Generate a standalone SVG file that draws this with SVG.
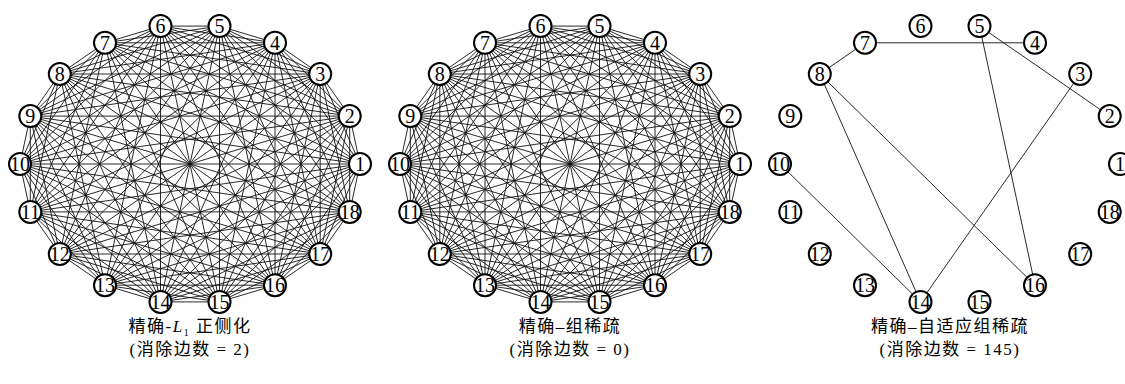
<svg xmlns="http://www.w3.org/2000/svg" xmlns:xlink="http://www.w3.org/1999/xlink" width="1125" height="384" viewBox="0 0 1125 384">
<style>
.bg{fill:#fff}
.e{fill:none;stroke:#111;stroke-width:0.9}
.n circle{fill:#fff;stroke:#000;stroke-width:2}
.n text{font-family:"Liberation Serif","Times New Roman",serif;font-size:20px;text-anchor:middle;fill:#000}
.cap{font-family:"Liberation Serif","Noto Sans CJK SC",serif;font-size:17px;letter-spacing:1.5px;text-anchor:middle;fill:#000}
</style>
<defs>
<g id="k18" class="e">
<path d="M170 0L159.7-47.9M170 0L130.2-90M170 0L85-121.2M170 0L29.5-137.9M170 0L-29.5-137.9M170 0L-85-121.2M170 0L-130.2-90M170 0L-159.7-47.9M170 0L-170 0M170 0L-159.7 47.9M170 0L-130.2 90M170 0L-85 121.2M170 0L-29.5 137.9M170 0L29.5 137.9M170 0L85 121.2M170 0L130.2 90M170 0L159.7 47.9"/>
<path d="M159.7-47.9L130.2-90M159.7-47.9L85-121.2M159.7-47.9L29.5-137.9M159.7-47.9L-29.5-137.9M159.7-47.9L-85-121.2M159.7-47.9L-130.2-90M159.7-47.9L-159.7-47.9M159.7-47.9L-170 0M159.7-47.9L-159.7 47.9M159.7-47.9L-130.2 90M159.7-47.9L-85 121.2M159.7-47.9L-29.5 137.9M159.7-47.9L29.5 137.9M159.7-47.9L85 121.2M159.7-47.9L130.2 90M159.7-47.9L159.7 47.9"/>
<path d="M130.2-90L85-121.2M130.2-90L29.5-137.9M130.2-90L-29.5-137.9M130.2-90L-85-121.2M130.2-90L-130.2-90M130.2-90L-159.7-47.9M130.2-90L-170 0M130.2-90L-159.7 47.9M130.2-90L-130.2 90M130.2-90L-85 121.2M130.2-90L-29.5 137.9M130.2-90L29.5 137.9M130.2-90L85 121.2M130.2-90L130.2 90M130.2-90L159.7 47.9"/>
<path d="M85-121.2L29.5-137.9M85-121.2L-29.5-137.9M85-121.2L-85-121.2M85-121.2L-130.2-90M85-121.2L-159.7-47.9M85-121.2L-170 0M85-121.2L-159.7 47.9M85-121.2L-130.2 90M85-121.2L-85 121.2M85-121.2L-29.5 137.9M85-121.2L29.5 137.9M85-121.2L85 121.2M85-121.2L130.2 90M85-121.2L159.7 47.9"/>
<path d="M29.5-137.9L-29.5-137.9M29.5-137.9L-85-121.2M29.5-137.9L-130.2-90M29.5-137.9L-159.7-47.9M29.5-137.9L-170 0M29.5-137.9L-159.7 47.9M29.5-137.9L-130.2 90M29.5-137.9L-85 121.2M29.5-137.9L-29.5 137.9M29.5-137.9L29.5 137.9M29.5-137.9L85 121.2M29.5-137.9L130.2 90M29.5-137.9L159.7 47.9"/>
<path d="M-29.5-137.9L-85-121.2M-29.5-137.9L-130.2-90M-29.5-137.9L-159.7-47.9M-29.5-137.9L-170 0M-29.5-137.9L-159.7 47.9M-29.5-137.9L-130.2 90M-29.5-137.9L-85 121.2M-29.5-137.9L-29.5 137.9M-29.5-137.9L29.5 137.9M-29.5-137.9L85 121.2M-29.5-137.9L130.2 90M-29.5-137.9L159.7 47.9"/>
<path d="M-85-121.2L-130.2-90M-85-121.2L-159.7-47.9M-85-121.2L-170 0M-85-121.2L-159.7 47.9M-85-121.2L-130.2 90M-85-121.2L-29.5 137.9M-85-121.2L29.5 137.9M-85-121.2L85 121.2M-85-121.2L130.2 90M-85-121.2L159.7 47.9"/>
<path d="M-130.2-90L-159.7-47.9M-130.2-90L-170 0M-130.2-90L-159.7 47.9M-130.2-90L-85 121.2M-130.2-90L-29.5 137.9M-130.2-90L29.5 137.9M-130.2-90L85 121.2M-130.2-90L130.2 90M-130.2-90L159.7 47.9"/>
<path d="M-159.7-47.9L-170 0M-159.7-47.9L-159.7 47.9M-159.7-47.9L-130.2 90M-159.7-47.9L-85 121.2M-159.7-47.9L-29.5 137.9M-159.7-47.9L29.5 137.9M-159.7-47.9L85 121.2M-159.7-47.9L130.2 90M-159.7-47.9L159.7 47.9"/>
<path d="M-170 0L-159.7 47.9M-170 0L-130.2 90M-170 0L-85 121.2M-170 0L-29.5 137.9M-170 0L29.5 137.9M-170 0L85 121.2M-170 0L130.2 90M-170 0L159.7 47.9"/>
<path d="M-159.7 47.9L-130.2 90M-159.7 47.9L-85 121.2M-159.7 47.9L-29.5 137.9M-159.7 47.9L29.5 137.9M-159.7 47.9L85 121.2M-159.7 47.9L130.2 90M-159.7 47.9L159.7 47.9"/>
<path d="M-130.2 90L-85 121.2M-130.2 90L-29.5 137.9M-130.2 90L29.5 137.9M-130.2 90L85 121.2M-130.2 90L130.2 90M-130.2 90L159.7 47.9"/>
<path d="M-85 121.2L-29.5 137.9M-85 121.2L29.5 137.9M-85 121.2L85 121.2M-85 121.2L130.2 90M-85 121.2L159.7 47.9"/>
<path d="M-29.5 137.9L29.5 137.9M-29.5 137.9L85 121.2M-29.5 137.9L130.2 90M-29.5 137.9L159.7 47.9"/>
<path d="M29.5 137.9L85 121.2M29.5 137.9L130.2 90M29.5 137.9L159.7 47.9"/>
<path d="M85 121.2L130.2 90M85 121.2L159.7 47.9"/>
<path d="M130.2 90L159.7 47.9"/>
</g>
</defs>
<rect class="bg" x="0" y="0" width="1125" height="384"/>
<g id="connectors">
<use xlink:href="#k18" href="#k18" transform="translate(190,164)"/>
<use xlink:href="#k18" href="#k18" transform="translate(570,164)"/>
<path class="e" d="M485 42.8L485 285.2M439.8 74L439.8 254"/>
<path class="e" d="M865 42.8L1035 42.8M865 42.8L819.8 74M979.5 26.1L1109.7 116.1M979.5 26.1L1035 285.2M819.8 74L920.5 301.9M819.8 74L1035 285.2M1080.2 74L920.5 301.9M780 164L920.5 301.9"/>
</g>
<g id="panel1-nodes" class="n">
<g id="a1" transform="translate(360,164)"><circle r="11"/><text y="7">1</text></g>
<g id="a2" transform="translate(349.7,116.1)"><circle r="11"/><text y="7">2</text></g>
<g id="a3" transform="translate(320.2,74)"><circle r="11"/><text y="7">3</text></g>
<g id="a4" transform="translate(275,42.8)"><circle r="11"/><text y="7">4</text></g>
<g id="a5" transform="translate(219.5,26.1)"><circle r="11"/><text y="7">5</text></g>
<g id="a6" transform="translate(160.5,26.1)"><circle r="11"/><text y="7">6</text></g>
<g id="a7" transform="translate(105,42.8)"><circle r="11"/><text y="7">7</text></g>
<g id="a8" transform="translate(59.8,74)"><circle r="11"/><text y="7">8</text></g>
<g id="a9" transform="translate(30.3,116.1)"><circle r="11"/><text y="7">9</text></g>
<g id="a10" transform="translate(20,164)"><circle r="11"/><text y="7">10</text></g>
<g id="a11" transform="translate(30.3,211.9)"><circle r="11"/><text y="7">11</text></g>
<g id="a12" transform="translate(59.8,254)"><circle r="11"/><text y="7">12</text></g>
<g id="a13" transform="translate(105,285.2)"><circle r="11"/><text y="7">13</text></g>
<g id="a14" transform="translate(160.5,301.9)"><circle r="11"/><text y="7">14</text></g>
<g id="a15" transform="translate(219.5,301.9)"><circle r="11"/><text y="7">15</text></g>
<g id="a16" transform="translate(275,285.2)"><circle r="11"/><text y="7">16</text></g>
<g id="a17" transform="translate(320.2,254)"><circle r="11"/><text y="7">17</text></g>
<g id="a18" transform="translate(349.7,211.9)"><circle r="11"/><text y="7">18</text></g>
</g>
<g id="panel2-nodes" class="n">
<g id="b1" transform="translate(740,164)"><circle r="11"/><text y="7">1</text></g>
<g id="b2" transform="translate(729.7,116.1)"><circle r="11"/><text y="7">2</text></g>
<g id="b3" transform="translate(700.2,74)"><circle r="11"/><text y="7">3</text></g>
<g id="b4" transform="translate(655,42.8)"><circle r="11"/><text y="7">4</text></g>
<g id="b5" transform="translate(599.5,26.1)"><circle r="11"/><text y="7">5</text></g>
<g id="b6" transform="translate(540.5,26.1)"><circle r="11"/><text y="7">6</text></g>
<g id="b7" transform="translate(485,42.8)"><circle r="11"/><text y="7">7</text></g>
<g id="b8" transform="translate(439.8,74)"><circle r="11"/><text y="7">8</text></g>
<g id="b9" transform="translate(410.3,116.1)"><circle r="11"/><text y="7">9</text></g>
<g id="b10" transform="translate(400,164)"><circle r="11"/><text y="7">10</text></g>
<g id="b11" transform="translate(410.3,211.9)"><circle r="11"/><text y="7">11</text></g>
<g id="b12" transform="translate(439.8,254)"><circle r="11"/><text y="7">12</text></g>
<g id="b13" transform="translate(485,285.2)"><circle r="11"/><text y="7">13</text></g>
<g id="b14" transform="translate(540.5,301.9)"><circle r="11"/><text y="7">14</text></g>
<g id="b15" transform="translate(599.5,301.9)"><circle r="11"/><text y="7">15</text></g>
<g id="b16" transform="translate(655,285.2)"><circle r="11"/><text y="7">16</text></g>
<g id="b17" transform="translate(700.2,254)"><circle r="11"/><text y="7">17</text></g>
<g id="b18" transform="translate(729.7,211.9)"><circle r="11"/><text y="7">18</text></g>
</g>
<g id="panel3-nodes" class="n">
<g id="c1" transform="translate(1120,164)"><circle r="11"/><text y="7">1</text></g>
<g id="c2" transform="translate(1109.7,116.1)"><circle r="11"/><text y="7">2</text></g>
<g id="c3" transform="translate(1080.2,74)"><circle r="11"/><text y="7">3</text></g>
<g id="c4" transform="translate(1035,42.8)"><circle r="11"/><text y="7">4</text></g>
<g id="c5" transform="translate(979.5,26.1)"><circle r="11"/><text y="7">5</text></g>
<g id="c6" transform="translate(920.5,26.1)"><circle r="11"/><text y="7">6</text></g>
<g id="c7" transform="translate(865,42.8)"><circle r="11"/><text y="7">7</text></g>
<g id="c8" transform="translate(819.8,74)"><circle r="11"/><text y="7">8</text></g>
<g id="c9" transform="translate(790.3,116.1)"><circle r="11"/><text y="7">9</text></g>
<g id="c10" transform="translate(780,164)"><circle r="11"/><text y="7">10</text></g>
<g id="c11" transform="translate(790.3,211.9)"><circle r="11"/><text y="7">11</text></g>
<g id="c12" transform="translate(819.8,254)"><circle r="11"/><text y="7">12</text></g>
<g id="c13" transform="translate(865,285.2)"><circle r="11"/><text y="7">13</text></g>
<g id="c14" transform="translate(920.5,301.9)"><circle r="11"/><text y="7">14</text></g>
<g id="c15" transform="translate(979.5,301.9)"><circle r="11"/><text y="7">15</text></g>
<g id="c16" transform="translate(1035,285.2)"><circle r="11"/><text y="7">16</text></g>
<g id="c17" transform="translate(1080.2,254)"><circle r="11"/><text y="7">17</text></g>
<g id="c18" transform="translate(1109.7,211.9)"><circle r="11"/><text y="7">18</text></g>
</g>
<g id="captions">
<text class="cap" x="190" y="332">精确-<tspan font-style="italic">L</tspan><tspan font-size="10" dy="4">1</tspan><tspan dy="-4"> 正侧化</tspan></text>
<text class="cap" x="190" y="355">(消除边数 = 2)</text>
<text class="cap" x="570" y="332">精确–组稀疏</text>
<text class="cap" x="570" y="355">(消除边数 = 0)</text>
<text class="cap" x="950" y="332">精确–自适应组稀疏</text>
<text class="cap" x="950" y="355">(消除边数 = 145)</text>
</g>
</svg>
